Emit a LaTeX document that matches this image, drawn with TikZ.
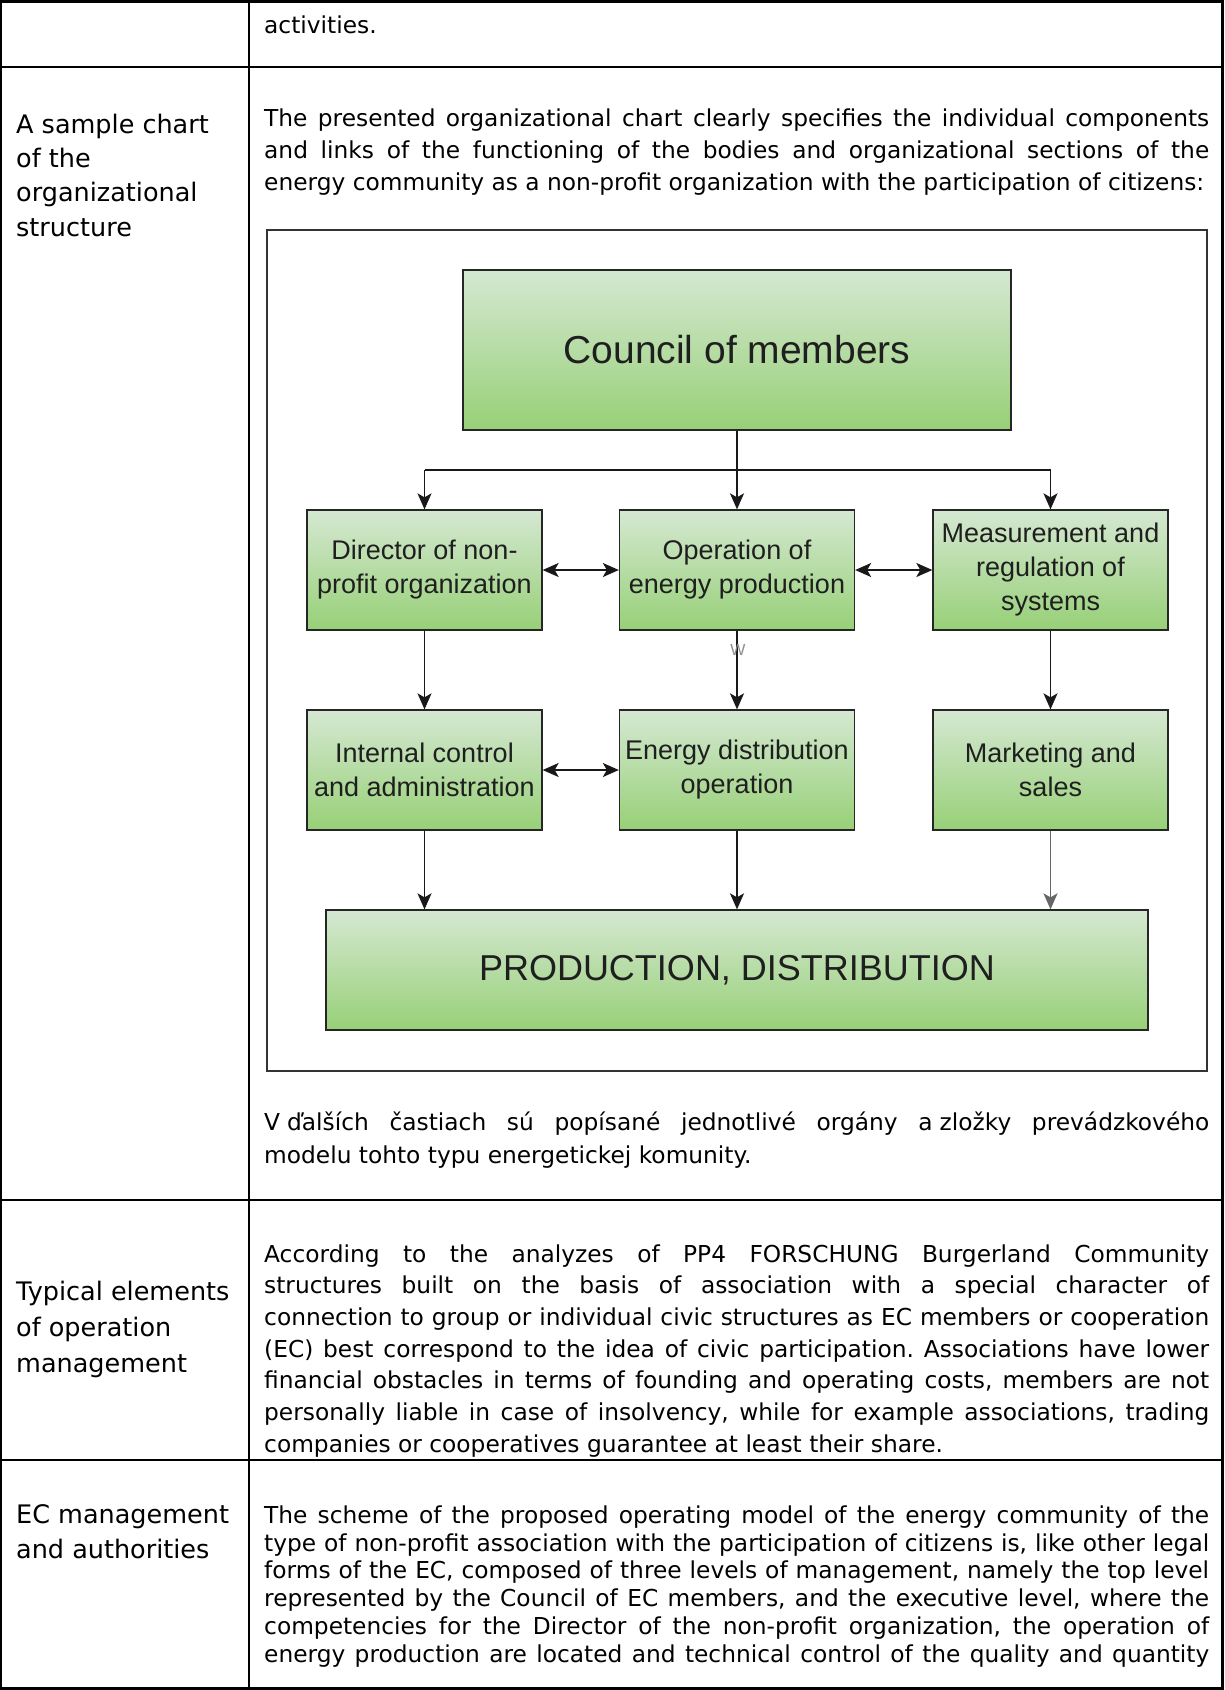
\documentclass[tikz,border=0pt]{standalone}
\usepackage{fontspec}
\setmainfont{DejaVu Sans}
\newfontfamily\arialf{Liberation Sans}
\usetikzlibrary{arrows.meta}
\definecolor{gtop}{RGB}{213,232,210}
\definecolor{gbot}{RGB}{151,208,119}
\frenchspacing
\newcommand\bodyfont{\fontsize{23.3}{28}\selectfont}
\newcommand\jl[3]{\node[bodyline] (#1) at (264,#2) {\makebox[945pt][s]{#3}};}
\newcommand\nl[3]{\node[bodyline] (#1) at (264,#2) {#3};}
\newcommand\hl[3]{\node[headline] (#1) at (16,#2) {#3};}
\tikzset{
  tbl/.style={line width=2.2pt, draw=black},
  bodyline/.style={anchor=base west, inner sep=0pt, font=\bodyfont},
  headline/.style={anchor=base west, inner sep=0pt, font=\fontsize{25.5}{35}\selectfont},
  gbox/.style={draw=black!85, line width=1.3pt, top color=gtop, bottom color=gbot,
    inner sep=0pt, align=center, text=black!88,
    font=\arialf\fontsize{27}{34}\selectfont,
    minimum width=235pt, minimum height=120pt},
  conn/.style={line width=1.7pt, draw=black!90},
  tip/.tip={Stealth[length=16pt,width=14pt,inset=4pt]},
  arr/.style={conn, -tip},
  darr/.style={conn, tip-tip},
}
\begin{document}
\begin{tikzpicture}[x=1pt,y=-1pt]
\useasboundingbox (0,0) rectangle (1224,1690);
\fill[white] (0,0) rectangle (1224,1690);

% table
\draw[tbl] (1.2,1.5) rectangle (1222.5,1688.5);
\draw[tbl] (1.2,67) -- (1222.5,67);
\draw[tbl] (1.2,1200) -- (1222.5,1200);
\draw[tbl] (1.2,1460) -- (1222.5,1460);
\draw[tbl] (249,1.5) -- (249,1688.5);

% row 0
\nl{r0}{33}{activities.}

% row 1 heading
\hl{h1a}{133}{A sample chart}
\hl{h1b}{167}{of the}
\hl{h1c}{201}{organizational}
\hl{h1d}{236}{structure}

\jl{p1a}{126}{The presented organizational chart clearly specifies the individual components}
\jl{p1b}{158}{and links of the functioning of the bodies and organizational sections of the}
\nl{p1c}{190}{energy community as a non-profit organization with the participation of citizens:}

% diagram frame
\draw[draw=black!80, line width=1.4pt] (267,230) rectangle (1207,1071);

\node[gbox, minimum width=548pt, minimum height=160pt, font=\arialf\fontsize{39}{39}\selectfont] (council) at (737,350) {Council of members};

\node[gbox] (dir) at (424.5,570) {Director of non-\\profit organization};
\node[gbox] (op) at (737,570) {Operation of\\energy production};
\node[gbox] (meas) at (1050.5,570) {Measurement and\\regulation of\\systems};

\node[gbox] (intc) at (424.5,770) {Internal control\\and administration};
\node[gbox] (dist) at (737,770) {Energy distribution\\operation};
\node[gbox] (mkt) at (1050.5,770) {Marketing and\\sales};

\node[gbox, minimum width=822pt, minimum height=120pt, font=\arialf\fontsize{36}{36}\selectfont] (prod) at (737,970) {PRODUCTION, DISTRIBUTION};

\coordinate (jc) at (737,470);
\coordinate (jl) at (424.5,470);
\coordinate (jr) at (1050.5,470);
\draw[arr] (council.south) -- (op.north);
\draw[conn] (jl) -- (jr);
\draw[arr] (jl) -- (dir.north);
\draw[arr] (jr) -- (meas.north);

\draw[darr] (dir.east) -- (op.west);
\draw[darr] (op.east) -- (meas.west);
\draw[darr] (intc.east) -- (dist.west);

\draw[arr] (dir.south) -- (intc.north);
\draw[arr] (op.south) -- (dist.north);
\draw[arr] (meas.south) -- (mkt.north);

\node[text=black!45, inner sep=0pt, font=\arialf\fontsize{16}{16}\selectfont] (wlab) at (738,650) {W};

\draw[arr] (intc.south) -- (intc.south |- prod.north);
\draw[arr] (dist.south) -- (prod.north);
\draw[arr, draw=black!60] (mkt.south) -- (mkt.south |- prod.north);

% paragraph 2
\jl{p2a}{1130}{V\hspace{0.3em}ďalších častiach sú popísané jednotlivé orgány a\hspace{0.3em}zložky prevádzkového}
\nl{p2b}{1163}{modelu tohto typu energetickej komunity.}

% row 2
\hl{h2a}{1300}{Typical elements}
\hl{h2b}{1336}{of operation}
\hl{h2c}{1372}{management}

\jl{p3a}{1262}{According to the analyzes of PP4 FORSCHUNG Burgerland Community}
\jl{p3b}{1293.7}{structures built on the basis of association with a special character of}
\jl{p3c}{1325.3}{connection to group or individual civic structures as EC members or cooperation}
\jl{p3d}{1357}{(EC) best correspond to the idea of civic participation. Associations have lower}
\jl{p3e}{1388.7}{financial obstacles in terms of founding and operating costs, members are not}
\jl{p3f}{1420.3}{personally liable in case of insolvency, while for example associations, trading}
\nl{p3g}{1452}{companies or cooperatives guarantee at least their share.}

% row 3
\hl{h3a}{1523}{EC management}
\hl{h3b}{1558}{and authorities}

\jl{p4a}{1523}{The scheme of the proposed operating model of the energy community of the}
\jl{p4b}{1551}{type of non-profit association with the participation of citizens is, like other legal}
\jl{p4c}{1578.5}{forms of the EC, composed of three levels of management, namely the top level}
\jl{p4d}{1606}{represented by the Council of EC members, and the executive level, where the}
\jl{p4e}{1634}{competencies for the Director of the non-profit organization, the operation of}
\jl{p4f}{1662}{energy production are located and technical control of the quality and quantity}
\end{tikzpicture}
\end{document}
